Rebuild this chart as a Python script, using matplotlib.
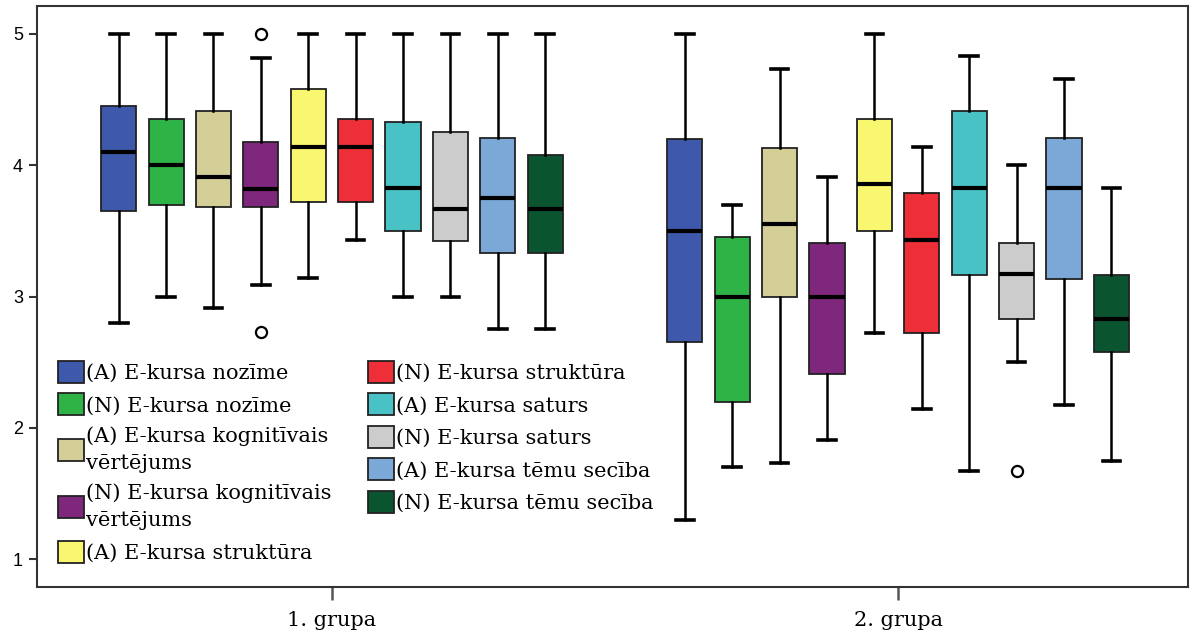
import matplotlib
matplotlib.use("Agg")
import matplotlib.pyplot as plt
from matplotlib.patches import Patch

# Groups on the x axis
groups = ["1. grupa", "2. grupa"]

# Series (legend labels) and fill colours
series = [
    "(A) E-kursa nozīme",
    "(N) E-kursa nozīme",
    "(A) E-kursa kognitīvais\nvērtējums",
    "(N) E-kursa kognitīvais\nvērtējums",
    "(A) E-kursa struktūra",
    "(N) E-kursa struktūra",
    "(A) E-kursa saturs",
    "(N) E-kursa saturs",
    "(A) E-kursa tēmu secība",
    "(N) E-kursa tēmu secība",
]
colors = ["#3E59AB", "#2EB446", "#D4CF96", "#7E277C", "#F9F66F",
          "#EE2F37", "#48C2C5", "#CCCCCC", "#7BA8D6", "#0B5430"]

# Five-number summaries per group, one value per series
g1_whislo = [2.80, 3.00, 2.91, 3.09, 3.14, 3.43, 3.00, 3.00, 2.75, 2.75]
g1_q1     = [3.65, 3.70, 3.68, 3.68, 3.72, 3.72, 3.50, 3.42, 3.33, 3.33]
g1_med    = [4.10, 4.00, 3.91, 3.82, 4.14, 4.14, 3.83, 3.67, 3.75, 3.67]
g1_q3     = [4.45, 4.35, 4.41, 4.18, 4.58, 4.35, 4.33, 4.25, 4.21, 4.08]
g1_whishi = [5.00, 5.00, 5.00, 4.82, 5.00, 5.00, 5.00, 5.00, 5.00, 5.00]
g1_fliers = [[], [], [], [5.00, 2.73], [], [], [], [], [], []]

g2_whislo = [1.30, 1.70, 1.73, 1.91, 2.72, 2.14, 1.67, 2.50, 2.17, 1.75]
g2_q1     = [2.65, 2.20, 3.00, 2.41, 3.50, 2.72, 3.16, 2.83, 3.13, 2.58]
g2_med    = [3.50, 3.00, 3.55, 3.00, 3.86, 3.43, 3.83, 3.17, 3.83, 2.83]
g2_q3     = [4.20, 3.45, 4.13, 3.41, 4.35, 3.79, 4.41, 3.41, 4.21, 3.16]
g2_whishi = [5.00, 3.70, 4.73, 3.91, 5.00, 4.14, 4.83, 4.00, 4.66, 3.83]
g2_fliers = [[], [], [], [], [], [], [], [1.67], [], []]

y_ticks = [1, 2, 3, 4, 5]

group_stats = [
    (g1_whislo, g1_q1, g1_med, g1_q3, g1_whishi, g1_fliers),
    (g2_whislo, g2_q1, g2_med, g2_q3, g2_whishi, g2_fliers),
]

fig = plt.figure(figsize=(11.92, 6.37), dpi=100)
ax = fig.add_axes([37 / 1192, 1 - 587 / 637, 1151 / 1192, 581 / 637])

step = 0.0837
width = 0.062
n = len(series)

for gi, (wlo, q1, med, q3, whi, fl) in enumerate(group_stats):
    for si in range(n):
        stats = [dict(whislo=wlo[si], q1=q1[si], med=med[si], q3=q3[si],
                      whishi=whi[si], fliers=fl[si])]
        pos = gi + (si - (n - 1) / 2) * step
        ax.bxp(stats, positions=[pos], widths=width, capwidths=width * 0.5,
               patch_artist=True, manage_ticks=False,
               boxprops=dict(facecolor=colors[si], edgecolor="#222222", linewidth=1.3),
               medianprops=dict(color="black", linewidth=3.0, solid_capstyle="butt"),
               whiskerprops=dict(color="black", linewidth=1.8),
               capprops=dict(color="black", linewidth=2.6),
               flierprops=dict(marker="o", markerfacecolor="white",
                               markeredgecolor="black", markersize=8,
                               markeredgewidth=1.6))

ax.set_xlim(-0.521, 1.512)
ax.set_ylim(0.787, 5.213)
ax.set_yticks(y_ticks)
ax.set_yticklabels([str(v) for v in y_ticks], fontfamily="Liberation Sans", fontsize=13)
ax.set_xticks([0, 1])
ax.set_xticklabels(groups, fontfamily="DejaVu Serif", fontsize=15)
ax.tick_params(axis="y", direction="out", length=6, width=1.5, pad=4, color="#333333")
ax.tick_params(axis="x", direction="out", length=9, width=1.8, pad=8, color="#555555")
for s in ax.spines.values():
    s.set_color("#333333")
    s.set_linewidth(1.5)

handles = [Patch(facecolor=c, edgecolor="#222222", linewidth=1.3) for c in colors]
leg = ax.legend(handles, series, loc="lower left", bbox_to_anchor=(0.018, 0.042),
                ncol=2, frameon=False, borderpad=0, borderaxespad=0,
                handlelength=1.25, handleheight=1.25, handletextpad=0.1,
                labelspacing=0.5, columnspacing=1.75,
                prop=dict(family="DejaVu Serif", size=15))
for t in leg.get_texts():
    t.set_linespacing(1.55)

fig.savefig("out.png", dpi=100)
